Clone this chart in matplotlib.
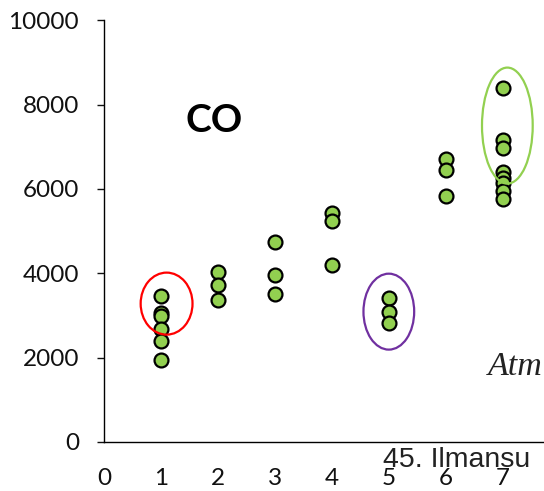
import matplotlib
matplotlib.use("Agg")
import matplotlib.pyplot as plt
from matplotlib.patches import Ellipse

# ── data ─────────────────────────────────────────────────────────
x_pos = [1, 2, 3, 4, 5, 6, 7]
co_values = [
    [3470, 3050, 2990, 2690, 2400, 1950],
    [4040, 3710, 3370],
    [4730, 3970, 3510],
    [5420, 5230, 4200],
    [3420, 3090, 2830],
    [6700, 6440, 5840],
    [8400, 7150, 6960, 6390, 6250, 6130, 5960, 5770],
]
y_ticks = [0, 2000, 4000, 6000, 8000, 10000]
x_ticks = [0, 1, 2, 3, 4, 5, 6, 7]

# highlighted groups: (x centre, y centre, width, height, colour)
highlights = [
    (1.1, 3280, 0.91, 1470, "#FF0000"),
    (5.0, 3090, 0.89, 1800, "#7030A0"),
    (7.08, 7500, 0.89, 2750, "#92D050"),
]

plt.rcParams["font.family"] = ["Lato", "DejaVu Sans"]

fig = plt.figure(figsize=(5.44, 4.91), dpi=100)
ax = fig.add_axes([0.191, 0.0998, 0.838, 0.8592])

for x, vals in zip(x_pos, co_values):
    ax.plot([x] * len(vals), vals, "o", ms=10, mfc="#92D050",
            mec="black", mew=1.6, ls="none", zorder=3)

for cx, cy, w, h, col in highlights:
    ax.add_patch(Ellipse((cx, cy), w, h, fill=False, ec=col, lw=1.6, zorder=4))

ax.set_xlim(0, 8)
ax.set_ylim(0, 10000)
ax.set_yticks(y_ticks)
ax.set_xticks(x_ticks)
ax.tick_params(axis="y", length=5, width=1, pad=13, labelsize=17.5, colors="#111")
ax.tick_params(axis="x", length=0, pad=19, labelsize=17.5, colors="#111")
for side in ("top", "right"):
    ax.spines[side].set_visible(False)
for side in ("left", "bottom"):
    ax.spines[side].set_linewidth(1.0)

ax.text(1.93, 7620, "CO", fontsize=28, fontweight="bold", ha="center", va="center")

# stray text from the surrounding page (only the visible part)
fig.text(488 / 544, 1 - 375 / 491, "Atm", family="Liberation Serif",
         style="italic", fontsize=24.5, va="baseline", ha="left", color="#222")
fig.text(383 / 544, 1 - 467 / 491, "45. Ilmansu", family="Liberation Sans",
         fontsize=20.5, va="baseline", ha="left", color="#222")

fig.savefig("out.png", dpi=100)
